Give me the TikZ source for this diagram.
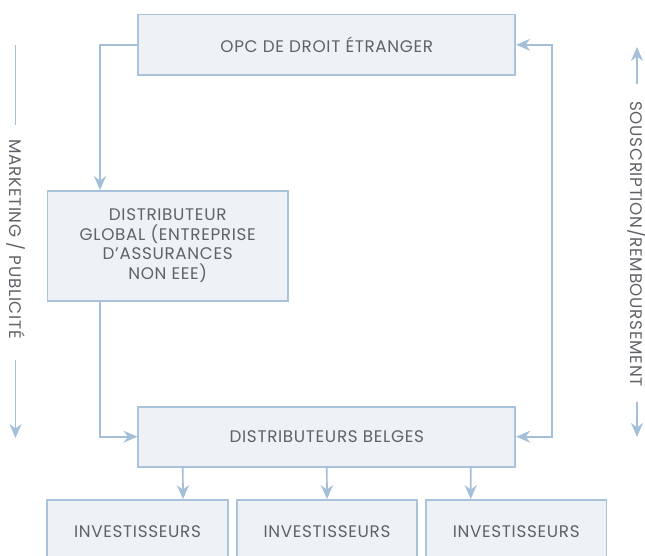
\documentclass[tikz,border=0pt]{standalone}
\usepackage{fontspec}
\setmainfont{Poppins}[LetterSpace=4]
\usetikzlibrary{arrows.meta,calc}
\definecolor{boxfill}{HTML}{EEF2F7}
\definecolor{boxline}{HTML}{A9C4DA}
\definecolor{arrcol}{HTML}{A3C0D8}
\definecolor{txt}{HTML}{5F6368}
\tikzset{
  box/.style={draw=boxline, fill=boxfill, line width=1.7pt, text=txt, font=\fontsize{16.8}{19.5}\selectfont, align=center, inner sep=0pt},
  conn/.style={draw=arrcol, line width=1.7pt, -{Stealth[length=14pt,width=12pt,inset=4.5pt]}},
  plain/.style={draw=arrcol, line width=1.7pt},
  sidelbl/.style={text=txt, font=\fontsize{16.8}{19}\selectfont, rotate=-90, inner sep=0pt}
}
\begin{document}
\begin{tikzpicture}[x=1pt,y=-1pt]
\useasboundingbox (0,0) rectangle (645,556);
\clip (0,0) rectangle (645,556);
\node[box, minimum width=377pt, minimum height=60.5pt] (top) at (326.8,44.8) {OPC DE DROIT ÉTRANGER};
\node[box, minimum width=240.7pt, minimum height=109.7pt] (glob) at (167.7,245.8) {DISTRIBUTEUR\\GLOBAL (ENTREPRISE\\D’ASSURANCES\\NON EEE)};
\node[box, minimum width=377pt, minimum height=60pt] (db) at (326.8,436.7) {DISTRIBUTEURS BELGES};
\node[box, minimum width=180.5pt, minimum height=63pt] (inv1) at (137.5,531.5) {INVESTISSEURS};
\node[box, minimum width=180.5pt, minimum height=63pt] (inv2) at (327,531.5) {INVESTISSEURS};
\node[box, minimum width=180.5pt, minimum height=63pt] (inv3) at (516.2,531.5) {INVESTISSEURS};
% connectors
\draw[conn] (top.west) -| ([xshift=-67.7pt]glob.north);
\draw[conn] ([xshift=-67.7pt]glob.south) |- (db.west);
\draw[conn, {Stealth[length=14pt,width=12pt,inset=4.5pt]}-{Stealth[length=14pt,width=12pt,inset=4.5pt]}] (top.east) -- ++(36,0) |- (db.east);
\draw[conn] ([xshift=-144pt]db.south) -- ([xshift=45.5pt]inv1.north);
\draw[conn] (db.south) -- (inv2.north);
\draw[conn] ([xshift=144pt]db.south) -- ([xshift=-45.5pt]inv3.north);
% side labels
\coordinate (l1) at (15.5,45);
\coordinate (l2) at (15.5,125);
\coordinate (l3) at (15.5,360);
\coordinate (l4) at (15.5,438);
\node[sidelbl] (ltext) at (15.5,239) {MARKETING / PUBLICITÉ};
\draw[plain] (l1) -- (l2);
\draw[conn] (l3) -- (l4);
\coordinate (r1) at (637,84);
\coordinate (r2) at (637,47);
\coordinate (r3) at (637,402);
\coordinate (r4) at (637,437);
\node[sidelbl] (rtext) at (637,244) {SOUSCRIPTION/REMBOURSEMENT};
\draw[conn] (r1) -- (r2);
\draw[conn] (r3) -- (r4);
\end{tikzpicture}
\end{document}
